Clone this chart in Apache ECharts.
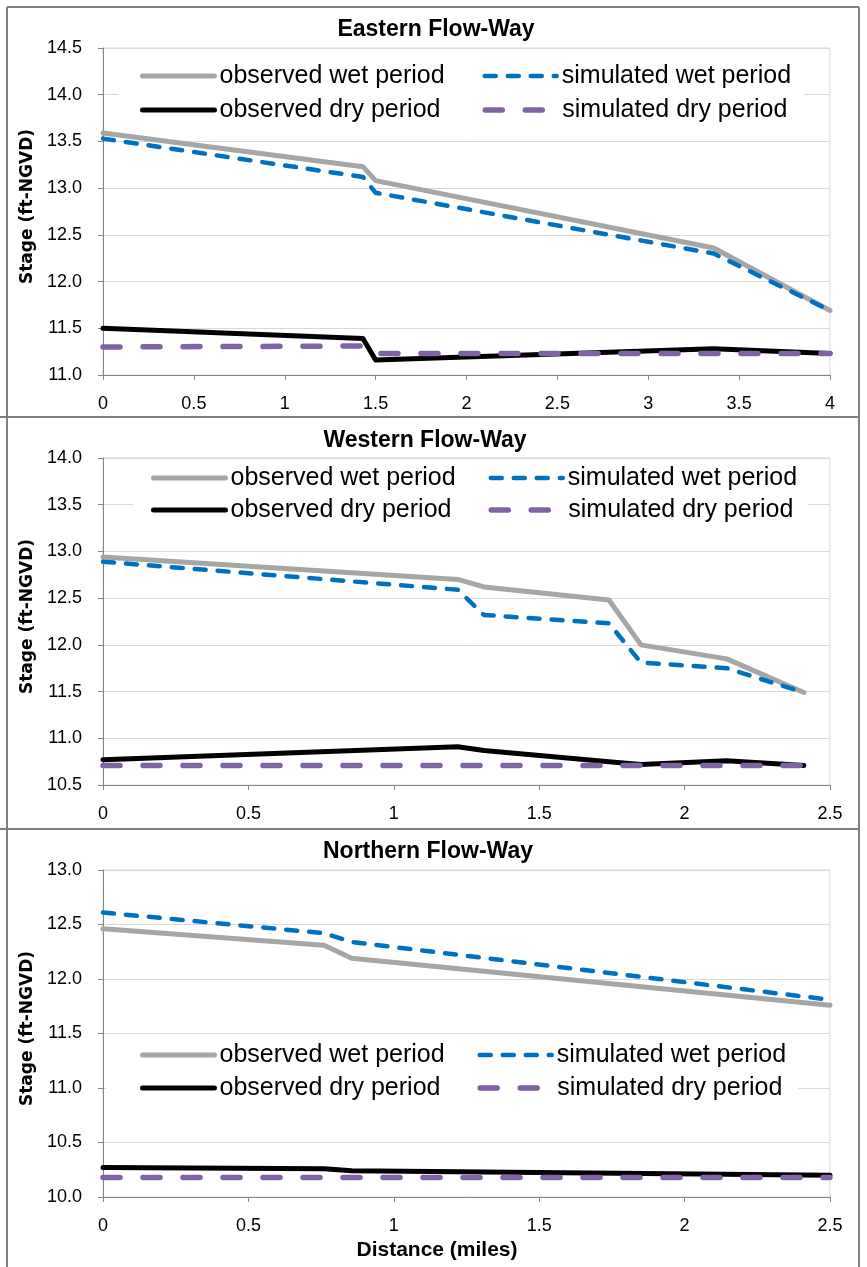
<!DOCTYPE html>
<html>
<head>
<meta charset="utf-8">
<script src="https://cdn.jsdelivr.net/npm/echarts@6/dist/echarts.min.js"></script>
<style>
html,body{margin:0;padding:0;background:#fff;}
#chart{width:867px;height:1267px;}
</style>
</head>
<body>
<div id="chart"></div>
<script>
// ---------- data ----------
const seriesNames = ['observed wet period', 'simulated wet period', 'observed dry period', 'simulated dry period'];
const panelTitles = ['Eastern Flow-Way', 'Western Flow-Way', 'Northern Flow-Way'];
const xAxisTitle = 'Distance (miles)';
const yAxisTitle = 'Stage (ft-NGVD)';

// Eastern Flow-Way
const eastDist      = [0, 1.43, 1.50, 3.36, 4.00];
const eastObsWet    = [13.59, 13.23, 13.08, 12.36, 11.69];
const eastSimWet    = [13.53, 13.12, 12.95, 12.30, 11.69];
const eastObsDry    = [11.50, 11.39, 11.16, 11.28, 11.23];
const eastSimDry    = [11.30, 11.31, 11.23, 11.23, 11.23];

// Western Flow-Way
const westDist      = [0, 1.22, 1.31, 1.74, 1.85, 2.145, 2.41];
const westObsWet    = [12.94, 12.70, 12.62, 12.48, 12.00, 11.85, 11.49];
const westSimWet    = [12.89, 12.59, 12.32, 12.23, 11.81, 11.75, 11.49];
const westObsDry    = [10.77, 10.91, 10.87, 10.75, 10.72, 10.76, 10.71];
const westSimDry    = [10.71, 10.71, 10.71, 10.71, 10.71, 10.71, 10.71];

// Northern Flow-Way
const northDist     = [0, 0.76, 0.855, 2.50];
const northObsWet   = [12.46, 12.31, 12.19, 11.76];
const northSimWet   = [12.61, 12.42, 12.34, 11.81];
const northObsDry   = [10.27, 10.26, 10.24, 10.20];
const northSimDry   = [10.18, 10.18, 10.18, 10.18];

// axis ranges / ticks
const yMin = [11.0, 10.5, 10.0];
const yMax = [14.5, 14.0, 13.0];
const xMax = [4, 2.5, 2.5];
const tickStep = 0.5;

// ---------- build ----------
const panels = [
  {dist: eastDist,  vals: [eastObsWet,  eastSimWet,  eastObsDry,  eastSimDry]},
  {dist: westDist,  vals: [westObsWet,  westSimWet,  westObsDry,  westSimDry]},
  {dist: northDist, vals: [northObsWet, northSimWet, northObsDry, northSimDry]}
];

const FONT = 'Liberation Sans';
const lineStyles = [
  {color: '#a6a6a6', width: 5, type: 'solid', cap: 'round', join: 'round'},
  {color: '#0070c0', width: 4.5, type: [11, 12], cap: 'round', join: 'round'},
  {color: '#000000', width: 5, type: 'solid', cap: 'round', join: 'round'},
  {color: '#8064a2', width: 5.5, type: [17, 23], cap: 'round', join: 'round'}
];

const gridTops = [48, 458, 870];
const gridH = 327;
const titleTops = [18, 429, 840];
const titleX = [436, 425, 428];

// legend layout per panel
const legendCfg = [
  {left: 118, top: 58,   pad: [4, 11, 4, 22], gap: 6, w1: 257, w2: 231},
  {left: 133, top: 460,  pad: [4, 10, 4, 18], gap: 4, w1: 254, w2: 230},
  {left: 106, top: 1037, pad: [4, 11, 4, 34], gap: 5, w1: 253, w2: 230}
];

const grid = [], xAxis = [], yAxis = [], series = [], legend = [], title = [];

panels.forEach((p, i) => {
  grid.push({left: 103, right: 37, top: gridTops[i], height: gridH,
    show: true, borderColor: '#d9d9d9', borderWidth: 1, backgroundColor: 'transparent'});
  title.push({text: panelTitles[i], left: titleX[i], top: titleTops[i], textAlign: 'center', padding: 0,
    textStyle: {fontFamily: FONT, fontWeight: 'bold', fontSize: 23, color: '#000'}});
  xAxis.push({type: 'value', gridIndex: i, min: 0, max: xMax[i], interval: tickStep,
    axisLine: {show: true, onZero: false, lineStyle: {color: '#868686', width: 1}},
    axisTick: {show: true, length: 5, lineStyle: {color: '#868686'}},
    splitLine: {show: false},
    axisLabel: {margin: 20, fontSize: 18, fontFamily: FONT, color: '#000'}});
  yAxis.push({type: 'value', gridIndex: i, min: yMin[i], max: yMax[i], interval: tickStep,
    name: yAxisTitle, nameLocation: 'middle', nameGap: 58,
    nameTextStyle: {fontFamily: 'DejaVu Sans', fontWeight: 'bold', fontSize: 17, color: '#000', padding: [0, 0, 0, 10]},
    axisLine: {show: true, lineStyle: {color: '#868686', width: 1}},
    axisTick: {show: true, length: 5, lineStyle: {color: '#868686'}},
    splitLine: {show: true, lineStyle: {color: '#d9d9d9', width: 1}},
    axisLabel: {margin: 21, fontSize: 18, fontFamily: FONT, color: '#000', formatter: v => v.toFixed(1)}});
  seriesNames.forEach((name, k) => {
    series.push({type: 'line', name: name, xAxisIndex: i, yAxisIndex: i,
      data: p.dist.map((d, j) => [d, p.vals[k][j]]),
      symbol: 'none', showSymbol: false, smooth: false, silent: true,
      lineStyle: lineStyles[k], itemStyle: {color: lineStyles[k].color}, z: 2 + k});
  });
  const c = legendCfg[i];
  legend.push({left: c.left, top: c.top, padding: c.pad, itemGap: c.gap, width: 660,
    orient: 'horizontal', backgroundColor: '#ffffff', itemWidth: 72, itemHeight: 14,
    selectedMode: false, z: 10,
    itemStyle: {opacity: 0},
    lineStyle: {width: 'inherit', type: 'inherit', cap: 'inherit'},
    textStyle: {fontFamily: FONT, fontSize: 25, lineHeight: 28, color: '#000'},
    data: seriesNames.map((n, k) => ({name: n, textStyle: {width: (k % 2 === 0) ? c.w1 : c.w2}}))});
});

title.push({text: xAxisTitle, left: 437, top: 1240, textAlign: 'center', padding: 0,
  textStyle: {fontFamily: FONT, fontWeight: 'bold', fontSize: 21, color: '#000'}});

const frameStyle = {stroke: '#7f7f7f', lineWidth: 2};
const graphic = [
  {type: 'line', shape: {x1: 7, y1: 7, x2: 859, y2: 7}, style: frameStyle, silent: true},
  {type: 'line', shape: {x1: 7, y1: 7, x2: 7, y2: 1267}, style: frameStyle, silent: true},
  {type: 'line', shape: {x1: 859, y1: 7, x2: 859, y2: 1267}, style: frameStyle, silent: true},
  {type: 'line', shape: {x1: 0, y1: 417, x2: 859, y2: 417}, style: frameStyle, silent: true},
  {type: 'line', shape: {x1: 0, y1: 829, x2: 859, y2: 829}, style: frameStyle, silent: true}
];

const chart = echarts.init(document.getElementById('chart'), null, {renderer: 'canvas'});
chart.setOption({
  animation: false,
  backgroundColor: '#ffffff',
  textStyle: {fontFamily: FONT},
  title, grid, xAxis, yAxis, series, legend, graphic
});
</script>
</body>
</html>
